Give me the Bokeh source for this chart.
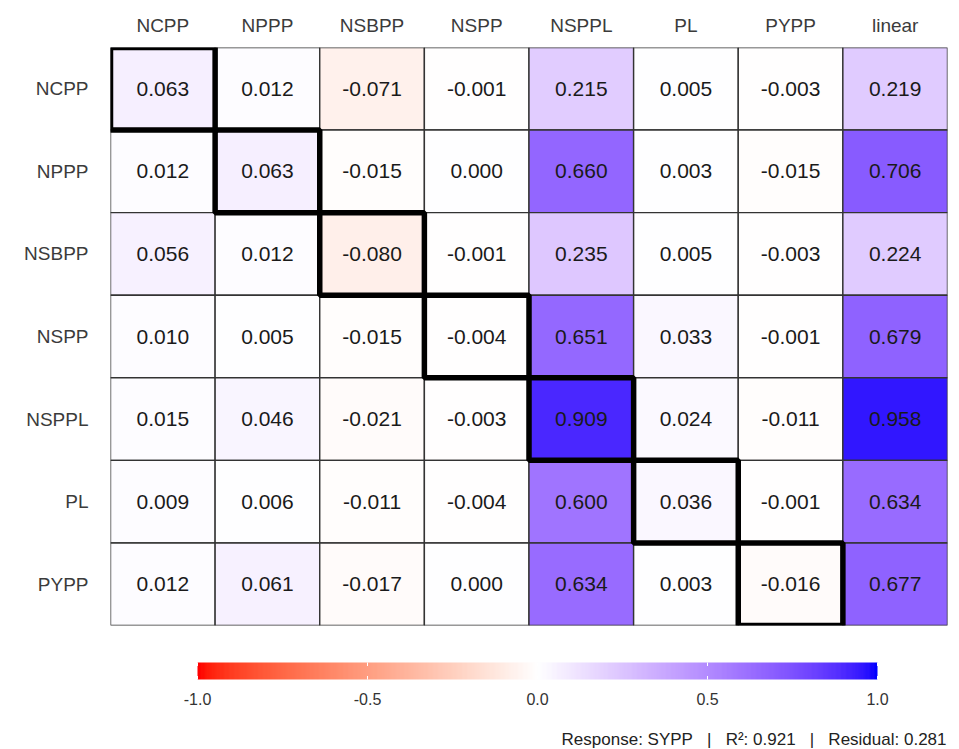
import numpy as np
from bokeh.plotting import figure
from bokeh.layouts import column
from bokeh.models import ColumnDataSource, LinearColorMapper, Range1d
from bokeh.core.properties import value
from bokeh.embed import file_html
from bokeh.resources import INLINE

# ---------------- data ----------------
cols = ["NCPP", "NPPP", "NSBPP", "NSPP", "NSPPL", "PL", "PYPP", "linear"]
rows = ["NCPP", "NPPP", "NSBPP", "NSPP", "NSPPL", "PL", "PYPP"]
row_NCPP  = [0.063, 0.012, -0.071, -0.001, 0.215, 0.005, -0.003, 0.219]
row_NPPP  = [0.012, 0.063, -0.015,  0.000, 0.660, 0.003, -0.015, 0.706]
row_NSBPP = [0.056, 0.012, -0.080, -0.001, 0.235, 0.005, -0.003, 0.224]
row_NSPP  = [0.010, 0.005, -0.015, -0.004, 0.651, 0.033, -0.001, 0.679]
row_NSPPL = [0.015, 0.046, -0.021, -0.003, 0.909, 0.024, -0.011, 0.958]
row_PL    = [0.009, 0.006, -0.011, -0.004, 0.600, 0.036, -0.001, 0.634]
row_PYPP  = [0.012, 0.061, -0.017,  0.000, 0.634, 0.003, -0.016, 0.677]
values = [row_NCPP, row_NPPP, row_NSBPP, row_NSPP, row_NSPPL, row_PL, row_PYPP]
colorbar_ticks = [-1.0, -0.5, 0.0, 0.5, 1.0]
color_low, color_high = -1.0, 1.0
SP = "\u00a0\u00a0\u00a0"
caption = "Response: SYPP" + SP + "|" + SP + "R\u00b2: 0.921" + SP + "|" + SP + "Residual: 0.281"

# ---------------- Lab colour ramp (red - white - blue) ----------------
def srgb_to_lab(c):
    c = np.array([int(c[i:i+2], 16) for i in (1, 3, 5)]) / 255.0
    lin = np.where(c <= 0.04045, c / 12.92, ((c + 0.055) / 1.055) ** 2.4)
    M = np.array([[0.4124, 0.3576, 0.1805], [0.2126, 0.7152, 0.0722], [0.0193, 0.1192, 0.9505]])
    xyz = M @ lin / np.array([0.95047, 1.0, 1.08883])
    f = np.where(xyz > 0.008856, np.cbrt(xyz), 7.787 * xyz + 16 / 116)
    return np.array([116 * f[1] - 16, 500 * (f[0] - f[1]), 200 * (f[1] - f[2])])

def lab_to_hex(lab):
    L, a, b = lab
    fy = (L + 16) / 116
    f = np.array([fy + a / 500, fy, fy - b / 200])
    xyz = np.where(f ** 3 > 0.008856, f ** 3, (f - 16 / 116) / 7.787) * np.array([0.95047, 1.0, 1.08883])
    Mi = np.array([[3.2406, -1.5372, -0.4986], [-0.9689, 1.8758, 0.0415], [0.0557, -0.2040, 1.0570]])
    lin = np.clip(Mi @ xyz, 0, 1)
    c = np.where(lin <= 0.0031308, 12.92 * lin, 1.055 * lin ** (1 / 2.4) - 0.055)
    c = np.clip(np.round(c * 255), 0, 255).astype(int)
    return "#%02x%02x%02x" % tuple(c)

lab_r, lab_w, lab_b = srgb_to_lab("#ff0000"), srgb_to_lab("#ffffff"), srgb_to_lab("#0000ff")
palette = []
N = 256
for i in range(N):
    t = i / (N - 1)
    if t < 0.5:
        lab = lab_r + (lab_w - lab_r) * (t / 0.5)
    else:
        lab = lab_w + (lab_b - lab_w) * ((t - 0.5) / 0.5)
    palette.append(lab_to_hex(lab))
mapper = LinearColorMapper(palette=palette, low=color_low, high=color_high)

# ---------------- heatmap ----------------
xs, ys, vs, labels = [], [], [], []
for r, rv in zip(rows, values):
    for c, v in zip(cols, rv):
        xs.append(c); ys.append(r); vs.append(v); labels.append("%.3f" % v)
src = ColumnDataSource(dict(x=xs, y=ys, v=vs, label=labels))
diag = ColumnDataSource(dict(x=rows, y=rows))

FONT = "Liberation Sans"
W = 959
BL, BR = 110, 12
p = figure(width=W, height=640, x_range=cols, y_range=list(reversed(rows)),
           x_axis_location="above", output_backend="svg", toolbar_location=None,
           min_border_left=BL, min_border_right=BR, min_border_top=47, min_border_bottom=15)
p.outline_line_color = None
p.grid.grid_line_color = None

p.rect(x="x", y="y", width=1, height=1, source=src,
       fill_color={"field": "v", "transform": mapper}, line_color="#333333", line_width=1.4)
p.text(x="x", y="y", text="label", source=src, text_align="center", text_baseline="middle",
       text_font=value(FONT), text_font_size="21px", text_color="#1a1a1a")
p.rect(x="x", y="y", width=1, height=1, source=diag, fill_color=None,
       line_color="black", line_width=5.5)

for ax in (p.xaxis, p.yaxis):
    ax.axis_line_color = None
    ax.major_tick_line_color = None
    ax.minor_tick_line_color = None
    ax.major_tick_out = 0
    ax.major_tick_in = 0
    ax.major_label_text_font = FONT
    ax.major_label_text_font_size = "19px"
    ax.major_label_text_color = "#3b3b3b"
p.xaxis.major_label_standoff = 12
p.yaxis.major_label_standoff = 22

# ---------------- colour bar + caption ----------------
H2 = 109
bar_left_px, bar_right_px = 197, 877
frame_left, frame_right = BL, W - BR
ppu = (bar_right_px - bar_left_px) / (color_high - color_low)
x0 = color_low - (bar_left_px - frame_left) / ppu
x1 = color_high + (frame_right - bar_right_px) / ppu
q = figure(width=W, height=H2, x_range=Range1d(x0, x1), y_range=Range1d(0, H2),
           output_backend="svg", toolbar_location=None,
           min_border_left=BL, min_border_right=BR, min_border_top=0, min_border_bottom=0)
q.axis.visible = False
q.grid.grid_line_color = None
q.outline_line_color = None

bar_bottom, bar_h = 70, 17
grad = np.linspace(color_low, color_high, 400).reshape(1, -1)
q.image(image=[grad], x=color_low, y=bar_bottom, dw=color_high - color_low, dh=bar_h,
        color_mapper=mapper)
tk = ColumnDataSource(dict(x=colorbar_ticks, lab=["%.1f" % t for t in colorbar_ticks]))
q.segment(x0="x", y0=bar_bottom, x1="x", y1=bar_bottom + 3.5, source=tk, line_color="white", line_width=1)
q.segment(x0="x", y0=bar_bottom + bar_h - 3.5, x1="x", y1=bar_bottom + bar_h, source=tk,
          line_color="white", line_width=1)
q.text(x="x", y=51, text="lab", source=tk, text_align="center", text_baseline="middle",
       text_font=value(FONT), text_font_size="16px", text_color="#333333")
cap = ColumnDataSource(dict(x=[color_high + (946 - bar_right_px) / ppu], t=[caption]))
q.text(x="x", y=10, text="t", source=cap, text_align="right", text_baseline="middle",
       text_font=value(FONT), text_font_size="17px", text_color="#222222")

layout = column(p, q, spacing=0)
open("out.html", "w").write(file_html(layout, INLINE))
